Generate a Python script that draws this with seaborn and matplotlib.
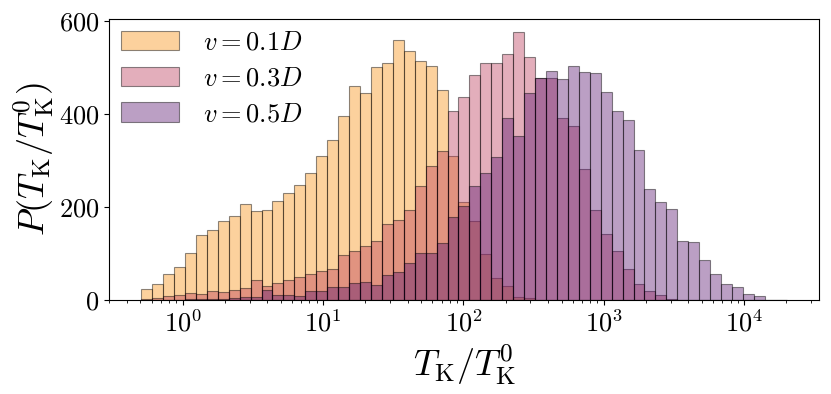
"""
Distribution of Kondo temperatures T_K/T_K^0 for three values of v (log-binned histograms).
"""

import numpy as np
import pandas as pd
import matplotlib
matplotlib.use('Agg')
import matplotlib.pyplot as plt
import seaborn as sns

plt.rcParams.update({
    'font.family': 'serif', 'font.serif': ['cmr10'],
    'mathtext.fontset': 'cm', 'axes.formatter.use_mathtext': True,
    'font.size': 19, 'xtick.labelsize': 19, 'ytick.labelsize': 19,
    'axes.labelsize': 26,
})

# ── Data (counts per log-spaced bin) ───────────────────────────────────────
BIN_LO, BIN_HI = 0.506, 20100.0

counts_v01 = [24, 35, 56, 72, 102, 141, 151, 171, 181, 206,
              191, 194, 214, 230, 247, 273, 311, 345, 397, 461,
              446, 501, 511, 559, 536, 514, 504, 453, 310, 212,
              169, 98, 48, 30, 7, 4, 1, 0, 0, 0,
              0, 0, 0, 0, 0, 0, 0, 0, 0, 0,
              0, 0, 0, 0, 0, 0, 0, 0, 0]
counts_v03 = [2, 5, 8, 10, 14, 12, 19, 18, 21, 25,
              44, 30, 37, 44, 50, 55, 63, 67, 96, 105,
              116, 128, 164, 173, 193, 245, 288, 321, 406, 436,
              484, 510, 511, 530, 576, 523, 478, 479, 392, 375,
              281, 194, 143, 106, 67, 35, 20, 11, 3, 1,
              0, 0, 0, 0, 0, 0, 0, 0, 0]
counts_v05 = [0, 0, 1, 1, 2, 3, 2, 3, 4, 6,
              6, 22, 10, 11, 9, 20, 20, 28, 29, 36,
              38, 33, 53, 61, 80, 101, 101, 123, 178, 203,
              245, 274, 307, 392, 354, 445, 477, 494, 476, 504,
              491, 488, 447, 406, 387, 324, 238, 211, 195, 128,
              124, 86, 57, 35, 29, 13, 9, 0, 1]

labels = [r'$v=0.1D$', r'$v=0.3D$', r'$v=0.5D$']
series = [counts_v01, counts_v03, counts_v05]

n_bins = len(counts_v01)
edges = np.geomspace(BIN_LO, BIN_HI, n_bins + 1)
centres = np.sqrt(edges[:-1] * edges[1:])

df = pd.concat([
    pd.DataFrame({'x': centres, 'w': c, 'label': lab})
    for lab, c in zip(labels, series)
], ignore_index=True)

colors = sns.color_palette('inferno_r', 3)

# ── Figure ────────────────────────────────────────────────────────────────
fig = plt.figure(figsize=(8.31, 3.94), dpi=100)
ax = fig.add_axes([0.131, 0.2386, 0.8546, 0.7132])

# draw in order so the larger v sits on top
for lab, col in zip(labels, colors):
    sns.histplot(data=df[df['label'] == lab], x='x', weights='w',
                 bins=n_bins, binrange=(np.log10(BIN_LO), np.log10(BIN_HI)),
                 log_scale=True, color=col, alpha=0.4,
                 edgecolor=(0, 0, 0, 0.45), linewidth=0.8,
                 element='bars', label=lab, ax=ax)

ax.set_ylim(0, 605)
ax.set_yticks([0, 200, 400, 600])
ax.set_xlabel(r'$T_{\rm K}/T_{\rm K}^0$')
ax.set_ylabel(r'$P(T_{\rm K}/T_{\rm K}^0)$', labelpad=2)

ax.legend(loc='upper left', frameon=False, fontsize=19,
          handlelength=2.2, handleheight=0.75, handletextpad=0.9,
          labelspacing=0.45, borderaxespad=0.0, borderpad=0.45)

fig.savefig('out.png', dpi=100)
